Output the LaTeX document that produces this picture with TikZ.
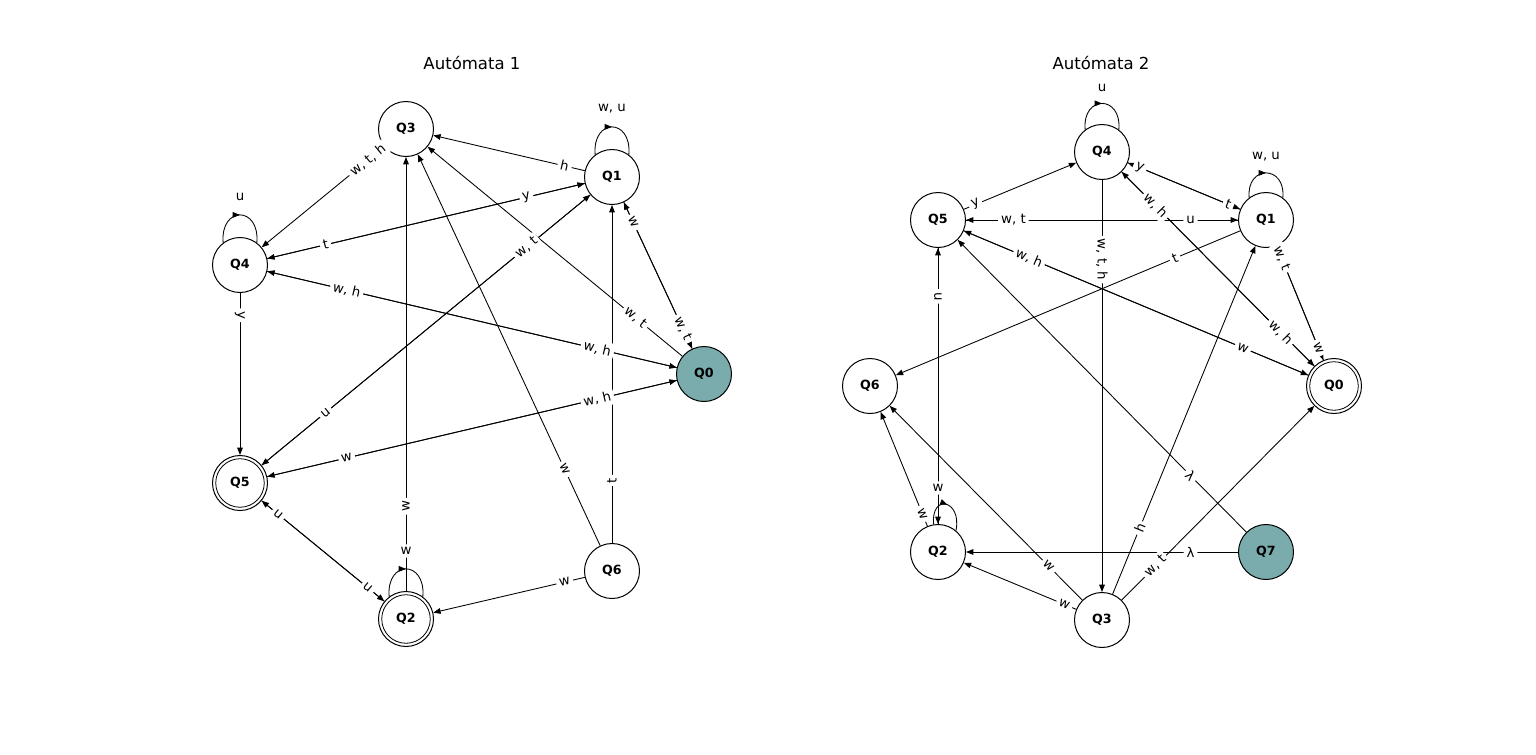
\documentclass[tikz,border=0pt]{standalone}
\usepackage{fontspec}
\setmainfont{DejaVu Sans}
\usetikzlibrary{arrows.meta,decorations.markings}
\definecolor{startfill}{RGB}{122,171,173}
\tikzset{
  qnode/.style={circle, draw, line width=0.75pt, fill=white, minimum size=41.25pt, inner sep=0pt, font=\fontsize{9.5}{11}\selectfont\bfseries},
  qstart/.style={qnode, fill=startfill},
  qfinal/.style={qnode, path picture={\draw[line width=0.6pt] (path picture bounding box.center) circle[radius=18.2pt];}},
  trans/.style={line width=0.65pt, -{Triangle[length=5.5pt,width=4.2pt]}},
  lab/.style={fill=white, inner sep=2.2pt, rounded corners=2pt, font=\fontsize{10}{12}\selectfont},
  elab/.style={lab, sloped, pos=0.23},
  loopline/.style={line width=0.65pt, decoration={markings, mark=at position 0.5 with {\arrow{Triangle[length=5.5pt,width=4.2pt]}}}, postaction={decorate}},
  heading/.style={font=\fontsize{12.4}{15}\selectfont}
}
\begin{document}
\begin{tikzpicture}[x=0.75pt,y=-0.75pt]
\useasboundingbox (0,0) rectangle (1536,754);
% titles
\node[heading] (t1) at (472,63) {Autómata 1};
\node[heading] (t2) at (1101,63) {Autómata 2};
% Autómata 1
\node[qnode]  (aQ3) at (406,129) {Q3};
\node[qnode]  (aQ1) at (612,177) {Q1};
\node[qnode]  (aQ4) at (240,265) {Q4};
\node[qstart] (aQ0) at (704,374) {Q0};
\node[qfinal] (aQ5) at (240,483) {Q5};
\node[qnode]  (aQ6) at (612,571) {Q6};
\node[qfinal] (aQ2) at (406,619) {Q2};
% Autómata 2
\node[qnode]  (bQ4) at (1102,152) {Q4};
\node[qnode]  (bQ5) at (938,220) {Q5};
\node[qnode]  (bQ1) at (1266,220) {Q1};
\node[qnode]  (bQ6) at (870,386) {Q6};
\node[qfinal] (bQ0) at (1334,386) {Q0};
\node[qnode]  (bQ2) at (938,552) {Q2};
\node[qstart] (bQ7) at (1266,552) {Q7};
\node[qnode]  (bQ3) at (1102,620) {Q3};
% transitions
\foreach \src/\dst in {aQ1/aQ3, aQ3/aQ4, aQ4/aQ1, aQ1/aQ4, aQ4/aQ0, aQ0/aQ4, aQ5/aQ0, aQ0/aQ5,
    aQ5/aQ1, aQ1/aQ5, aQ4/aQ5, aQ5/aQ2, aQ2/aQ5, aQ2/aQ3, aQ6/aQ3, aQ6/aQ1, aQ6/aQ2, aQ0/aQ3,
    aQ1/aQ0, aQ0/aQ1,
    bQ5/bQ4, bQ4/bQ1, bQ1/bQ4, bQ5/bQ1, bQ1/bQ5, bQ4/bQ3, bQ4/bQ0, bQ0/bQ4, bQ5/bQ0, bQ0/bQ5,
    bQ1/bQ6, bQ1/bQ0, bQ0/bQ1, bQ5/bQ2, bQ2/bQ5, bQ2/bQ6, bQ3/bQ6, bQ3/bQ2, bQ7/bQ2, bQ7/bQ5,
    bQ3/bQ1, bQ3/bQ0}
  \draw[trans] (\src) -- (\dst);
% self loops
\draw[loopline] (aQ1.127) .. controls +(-3,-37) and +(3,-37) .. (aQ1.53);
\draw[loopline] (aQ4.127) .. controls +(-3,-37) and +(3,-37) .. (aQ4.53);
\draw[loopline] (aQ2.127) .. controls +(-3,-37) and +(3,-37) .. (aQ2.53);
\draw[loopline] (bQ4.127) .. controls +(-3,-35) and +(3,-35) .. (bQ4.53);
\draw[loopline] (bQ1.127) .. controls +(-3,-33) and +(3,-33) .. (bQ1.53);
\draw[loopline] (bQ2.99) .. controls +(-3,-31) and +(6,-31) .. (bQ2.50);
% labels
\foreach \src/\dst/\txt in {aQ1/aQ3/h, aQ3/aQ4/{w, t, h}, aQ4/aQ1/t, aQ1/aQ4/y, aQ4/aQ0/{w, h},
    aQ0/aQ4/{w, h}, aQ5/aQ0/w, aQ0/aQ5/{w, h}, aQ5/aQ1/u, aQ1/aQ5/{w, t}, aQ4/aQ5/y, aQ5/aQ2/u,
    aQ2/aQ5/u, aQ2/aQ3/w, aQ6/aQ3/w, aQ6/aQ1/t, aQ6/aQ2/w, aQ0/aQ3/{w, t}, aQ1/aQ0/w, aQ0/aQ1/{w, t},
    bQ5/bQ4/y, bQ4/bQ1/y, bQ1/bQ4/t, bQ5/bQ1/{w, t}, bQ1/bQ5/u, bQ4/bQ3/{w, t, h}, bQ4/bQ0/{w, h},
    bQ0/bQ4/{w, h}, bQ5/bQ0/{w, h}, bQ0/bQ5/w, bQ1/bQ6/t, bQ1/bQ0/{w, t}, bQ0/bQ1/w, bQ5/bQ2/u,
    bQ2/bQ6/w, bQ3/bQ6/w, bQ3/bQ2/w, bQ7/bQ2/λ, bQ7/bQ5/λ, bQ3/bQ1/h, bQ3/bQ0/{w, t}}
  \path (\src.center) -- node[elab] {\txt} (\dst.center);
\foreach \n/\txt/\d in {aQ1/{w, u}/68, aQ4/u/68, aQ2/w/68, bQ4/u/64, bQ1/{w, u}/63, bQ2/w/64}
  \path (\n.center) ++(0,-\d) node[lab] {\txt};
\end{tikzpicture}
\end{document}
